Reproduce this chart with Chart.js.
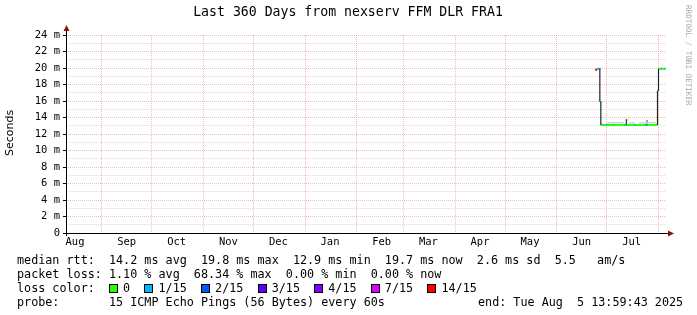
<!DOCTYPE html>
<html lang="en">
<head>
<meta charset="UTF-8">
<title>Last 360 Days from nexserv FFM DLR FRA1</title>
<script src="https://cdn.jsdelivr.net/npm/chart.js"></script>
<style>
    body { margin: 0; background: #ffffff; }
    #wrap { width: 697px; height: 315px; }
</style>
</head>
<body>
<div id="wrap"><canvas id="graph" width="697" height="315"></canvas></div>
<script>
// x values are days since the start of the graph (Aug 10 2024 14:00), 360 days shown
const monthNames  = ['Aug', 'Sep', 'Oct', 'Nov', 'Dec', 'Jan', 'Feb', 'Mar', 'Apr', 'May', 'Jun', 'Jul'];
const monthMid    = [5.42, 36.42, 66.42, 97.42, 127.42, 158.42, 189.42, 217.42, 248.42, 278.42, 309.42, 339.42];
const monthStarts = [21.42, 51.42, 82.42, 112.42, 143.42, 174.42, 202.42, 233.42, 263.42, 294.42, 324.42, 355.42];
const yGrid = [0, 1, 2, 3, 4, 5, 6, 7, 8, 9, 10, 11, 12, 13, 14, 15, 16, 17, 18, 19, 20, 21, 22, 23, 24];

// median rtt (ms), one run per loss colour
const medStart = [317.4, 318.6, 320.4, 321.0, 324.0, 324.6, 328.2, 328.8, 334.8, 335.4, 336.3, 341.4, 342.0, 347.4, 348.6, 354.6, 355.5, 357.0, 357.6, 358.8, 359.4];
const medEnd   = [318.6, 320.7, 321.3, 324.0, 324.6, 328.2, 328.8, 334.8, 335.4, 341.4, 336.9, 342.0, 347.4, 348.6, 354.9, 355.2, 357.0, 357.6, 358.8, 359.4, 360.0];
const medMs    = [19.8, 19.9, 15.9, 13.1, 13.1, 13.1, 13.1, 13.1, 13.1, 13.1, 13.7, 13.1, 13.1, 13.1, 13.1, 17.2, 19.9, 19.9, 19.9, 19.9, 19.9];
const medLoss  = [6, 1, 0, 0, 1, 0, 1, 0, 1, 0, 0, 1, 0, 1, 0, 0, 0, 1, 0, 1, 0];

// smoke: spread of the pings
const smokeDay   = [320.3, 320.9, 336.2, 348.6, 354.9, 355.5];
const smokeLo    = [15.9, 13.1, 13.1, 13.1, 13.1, 17.2];
const smokeHi    = [19.9, 15.9, 13.8, 13.7, 17.2, 19.9];
const smokeShade = ['#222222', '#222222', '#333333', '#666666', '#222222', '#222222'];
const haloStart  = [324.6, 337.5, 343.8];
const haloEnd    = [334.8, 341.4, 354.0];
const haloMs     = [13.35, 13.35, 13.35];

const lossLabels = ['0', '1/15', '2/15', '3/15', '4/15', '7/15', '14/15'];
const lossColors = ['#26ff00', '#00b8ff', '#0059ff', '#5e00ff', '#7e00ff', '#dd00ff', '#ff0000'];
const lossCols   = [13, 18, 26, 34, 42, 50, 58];

const legendRtt   = 'median rtt:  14.2 ms avg  19.8 ms max  12.9 ms min  19.7 ms now  2.6 ms sd  5.5   am/s';
const legendLoss  = 'packet loss: 1.10 % avg  68.34 % max  0.00 % min  0.00 % now';
const legendProbe = 'probe:       15 ICMP Echo Pings (56 Bytes) every 60s';
const legendEnd   = 'end: Tue Aug  5 13:59:43 2025';

const MONO = "'DejaVu Sans Mono', monospace";
const majorGrid = 'rgba(230, 140, 140, 0.6)';
const minorGrid = 'rgba(175, 175, 175, 0.45)';

function runs(starts, ends, vals) {
    const out = [];
    for (let i = 0; i < starts.length; i++) {
        out.push({x: starts[i], y: vals[i]}, {x: ends[i], y: vals[i]}, {x: ends[i], y: null});
    }
    return out;
}

const medianData = runs(medStart, medEnd, medMs);
const haloData = runs(haloStart, haloEnd, haloMs);
const smokeData = [];
for (let i = 0; i < smokeDay.length; i++) {
    smokeData.push({x: smokeDay[i], y: smokeLo[i]}, {x: smokeDay[i], y: smokeHi[i]}, {x: smokeDay[i], y: null});
}

const rrdDecor = {
    id: 'rrdDecor',
    afterDatasetsDraw(chart) {
        const ctx = chart.ctx;
        const a = chart.chartArea;
        ctx.save();
        // axes
        ctx.strokeStyle = '#000';
        ctx.lineWidth = 1;
        ctx.beginPath();
        ctx.moveTo(a.left + 0.5, a.bottom + 3);
        ctx.lineTo(a.left + 0.5, a.top - 5);
        ctx.moveTo(a.left - 3, a.bottom + 0.5);
        ctx.lineTo(a.right + 3, a.bottom + 0.5);
        ctx.stroke();
        ctx.fillStyle = '#8b1010';
        ctx.beginPath();
        ctx.moveTo(a.left + 0.5, a.top - 10);
        ctx.lineTo(a.left - 2.5, a.top - 4);
        ctx.lineTo(a.left + 3.5, a.top - 4);
        ctx.fill();
        ctx.beginPath();
        ctx.moveTo(a.right + 8, a.bottom + 0.5);
        ctx.lineTo(a.right + 2, a.bottom - 2.5);
        ctx.lineTo(a.right + 2, a.bottom + 3.5);
        ctx.fill();
        ctx.restore();
    },
    afterDraw(chart) {
        const ctx = chart.ctx;
        ctx.save();
        ctx.fillStyle = '#000';
        ctx.textBaseline = 'middle';
        // title
        ctx.font = '13.2px ' + MONO;
        ctx.textAlign = 'center';
        ctx.fillText('Last 360 Days from nexserv FFM DLR FRA1', 348, 13);
        // vertical label
        ctx.save();
        ctx.translate(10, 133);
        ctx.rotate(-Math.PI / 2);
        ctx.font = "11px 'DejaVu Sans', sans-serif";
        ctx.fillText('Seconds', 0, 0);
        ctx.restore();
        // watermark
        ctx.save();
        ctx.translate(688, 5);
        ctx.rotate(Math.PI / 2);
        ctx.textAlign = 'left';
        ctx.fillStyle = '#a8a8a8';
        ctx.font = '7.6px ' + MONO;
        ctx.fillText('RRDTOOL / TOBI OETIKER', 0, 0);
        ctx.restore();
        // legend
        ctx.textAlign = 'left';
        ctx.font = '11.75px ' + MONO;
        const cw = ctx.measureText('0').width;
        const x0 = 17;
        ctx.fillText(legendRtt, x0, 261);
        ctx.fillText(legendLoss, x0, 275);
        ctx.fillText('loss color:', x0, 289);
        lossLabels.forEach((lab, i) => {
            const bx = Math.round(x0 + lossCols[i] * cw) + 0.5;
            ctx.fillStyle = lossColors[i];
            ctx.fillRect(bx, 285, 8, 8);
            ctx.strokeStyle = '#000';
            ctx.strokeRect(bx, 284.5, 8, 8);
            ctx.fillStyle = '#000';
            ctx.fillText(lab, x0 + (lossCols[i] + 2) * cw, 289);
        });
        ctx.fillText(legendProbe, x0, 303);
        ctx.fillText(legendEnd, 478, 303);
        ctx.restore();
    }
};

new Chart(document.getElementById('graph'), {
    type: 'line',
    data: {
        datasets: [
            {
                label: 'smoke halo',
                data: haloData,
                borderColor: '#d4d4d4',
                borderWidth: 1.5,
                pointRadius: 0,
                spanGaps: false,
                borderCapStyle: 'butt'
            },
            {
                label: 'smoke',
                data: smokeData,
                borderWidth: 1.2,
                pointRadius: 0,
                spanGaps: false,
                segment: { borderColor: c => smokeShade[Math.floor(c.p0DataIndex / 3)] }
            },
            {
                label: 'median rtt',
                data: medianData,
                borderWidth: 2,
                pointRadius: 0,
                spanGaps: false,
                borderCapStyle: 'butt',
                segment: { borderColor: c => lossColors[medLoss[Math.floor(c.p0DataIndex / 3)]] }
            }
        ]
    },
    options: {
        responsive: false,
        animation: false,
        devicePixelRatio: 1,
        layout: { padding: { left: 0, right: 31, top: 35, bottom: 0 } },
        plugins: { legend: { display: false }, tooltip: { enabled: false }, title: { display: false } },
        scales: {
            x: {
                type: 'linear', min: 0, max: 360, position: 'bottom',
                afterBuildTicks: s => { s.ticks = monthStarts.map(v => ({value: v})); },
                afterFit: s => { s.height = 0; },
                ticks: { display: false },
                grid: { color: majorGrid, drawTicks: false },
                border: { display: false, dash: [1, 1] }
            },
            x2: {
                type: 'linear', min: 0, max: 360, position: 'bottom',
                afterBuildTicks: s => { s.ticks = monthMid.map(v => ({value: v})); },
                afterFit: s => { s.height = 82; },
                ticks: {
                    autoSkip: false, maxRotation: 0, padding: 3, color: '#000',
                    font: { family: MONO, size: 10.5 },
                    callback: (v, i) => monthNames[i]
                },
                grid: { display: false, drawTicks: false },
                border: { display: false }
            },
            y: {
                type: 'linear', min: 0, max: 24,
                afterBuildTicks: s => { s.ticks = yGrid.map(v => ({value: v})); },
                afterFit: s => { s.width = 66; },
                ticks: {
                    autoSkip: false, padding: 3, color: '#000',
                    font: { family: MONO, size: 10.5 },
                    callback: v => (v % 2 ? '' : (v === 0 ? '0' : v + ' m'))
                },
                grid: {
                    color: c => (c.tick.value % 2 ? minorGrid : majorGrid),
                    tickColor: c => (c.tick.value % 2 ? 'rgba(0,0,0,0)' : '#000'),
                    tickLength: 3
                },
                border: { display: false, dash: [1, 1] }
            }
        }
    },
    plugins: [rrdDecor]
});
</script>
</body>
</html>
